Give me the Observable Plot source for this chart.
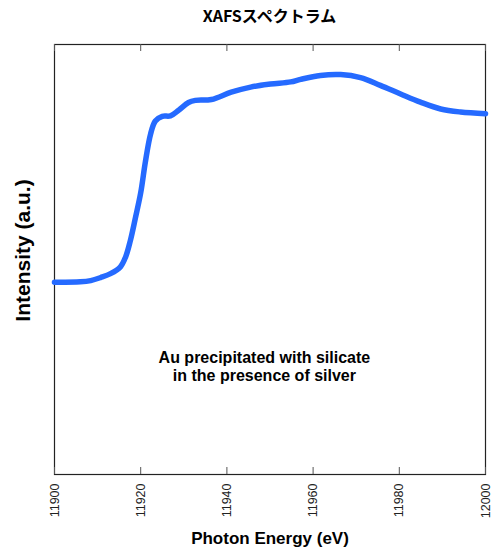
<!DOCTYPE html>
<html><head><meta charset="utf-8">
<script src="https://cdn.jsdelivr.net/npm/d3@7"></script>
<script src="https://cdn.jsdelivr.net/npm/@observablehq/plot@0.6"></script>
<style>
body{margin:0;background:#fff;}
#wrap{width:493px;height:549px;position:relative;font-family:"Liberation Sans",Arial,sans-serif;}
#title{position:absolute;left:54px;width:431px;top:3px;text-align:center;font:bold 16px "Noto Sans CJK JP",sans-serif;color:#000;}
#chart{position:absolute;left:0;top:30px;}
</style></head>
<body><div id="wrap"><div id="title">XAFSスペクトラム</div><div id="chart"></div></div>
<script>
const energy = [11900,11906,11908.4,11910.7,11913,11915.3,11916.5,11917.6,11918.8,11920,11921.1,11922.3,11923.4,11925,11926.9,11928.8,11931.1,11932.7,11936.4,11941,11945.5,11950.1,11954.8,11957.1,11961.7,11966.4,11971,11975.6,11980.3,11984.9,11989.6,11994.2,12000];
const intensity = [0.447,0.448,0.451,0.458,0.467,0.483,0.506,0.544,0.598,0.655,0.728,0.792,0.822,0.833,0.834,0.847,0.865,0.870,0.872,0.889,0.901,0.908,0.913,0.919,0.928,0.930,0.923,0.905,0.885,0.866,0.850,0.843,0.839];
const xTicks = [11900,11920,11940,11960,11980,12000];
const noteText = ["Au precipitated with silicate\nin the presence of silver"];
const noteX = [11948.7];
const noteY = [0.251];

const data = energy.map((e,i)=>({e, v: intensity[i]}));
const plot = Plot.plot({
  width: 493, height: 519,
  marginLeft: 54, marginRight: 8, marginTop: 14, marginBottom: 75,
  style: {fontFamily: '"Liberation Sans", Arial, sans-serif', background: "#fff"},
  x: {domain: [11900, 12000]},
  y: {domain: [0, 1], axis: null},
  marks: [
    Plot.frame({stroke: "#222", strokeWidth: 1.2}),
    Plot.tickX(xTicks, {x: d=>d, insetTop: 423, stroke: "#555"}),
    Plot.tickX(xTicks, {x: d=>d, insetBottom: 423, stroke: "#555"}),
    Plot.axisX({anchor: "bottom", ticks: xTicks, tickSize: 0, tickPadding: 9, tickRotate: -90, tickFormat: d=>String(d), fontSize: 12.5, color: "#222", label: null}),
    Plot.line(data, {x: "e", y: "v", stroke: "#256aff", strokeWidth: 5.5, curve: "catmull-rom"}),
    Plot.text(noteText, {x: noteX, y: noteY, text: d=>d, fontSize: 16, fontWeight: "bold", lineHeight: 1.1, fill: "#000"}),
    Plot.text(["Photon Energy (eV)"], {frameAnchor: "bottom", dy: 69, text: d=>d, fontSize: 17, fontWeight: "bold", fill: "#000"}),
    Plot.text(["Intensity (a.u.)"], {frameAnchor: "left", textAnchor: "middle", dx: -31, dy: -9, rotate: -90, text: d=>d, fontSize: 21, fontWeight: "bold", fill: "#000"})
  ]
});
document.getElementById("chart").appendChild(plot);
</script></body></html>
